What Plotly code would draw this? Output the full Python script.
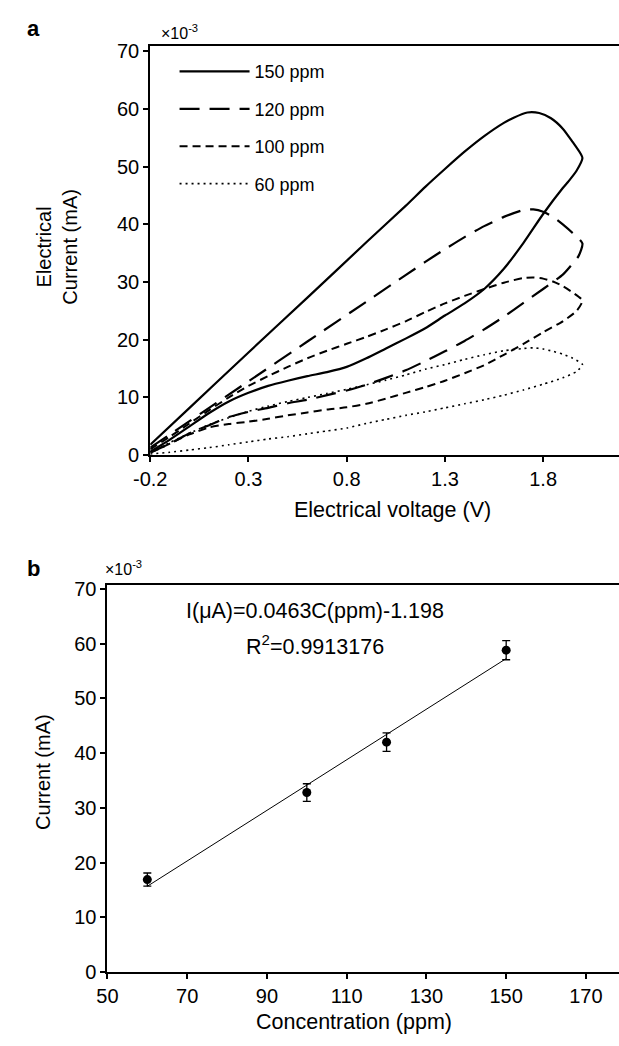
import plotly.graph_objects as go
import numpy as np

W, H = 619, 1046
FONT = "Liberation Sans, Arial, sans-serif"

# ---------------- Panel a: cyclic voltammograms ----------------
legend_names = ["150 ppm", "120 ppm", "100 ppm", "60 ppm"]

# 150 ppm (upper branch -0.2 -> 2.0, then lower branch 2.0 -> -0.2)
v150 = [-0.2, 0.0, 0.3, 0.6, 0.9, 1.1, 1.2, 1.3, 1.4, 1.5, 1.6, 1.65, 1.72, 1.78, 1.84, 1.9, 1.95, 1.99, 2.0,
        1.97, 1.93, 1.9, 1.8, 1.7, 1.6, 1.5, 1.4, 1.3, 1.2, 1.1, 1.0, 0.9, 0.8, 0.7, 0.6, 0.5, 0.4, 0.3, 0.2, 0.1, 0.0, -0.1, -0.2]
i150 = [1.8, 8.2, 17.8, 27.3, 36.9, 43.2, 46.5, 49.6, 52.6, 55.3, 57.6, 58.5, 59.4, 59.3, 58.4, 56.6, 54.3, 52.3, 51.5,
        49.3, 47.5, 46.3, 41.8, 36.8, 32.3, 28.8, 26.3, 24.2, 22.0, 20.2, 18.5, 16.8, 15.3, 14.4, 13.7, 12.9, 12.0, 10.8, 9.3, 7.3, 5.0, 2.7, 0.6]

# 120 ppm
v120 = [-0.2, 0.0, 0.3, 0.6, 0.9, 1.1, 1.2, 1.3, 1.4, 1.5, 1.6, 1.7, 1.75, 1.8, 1.85, 1.9, 1.95, 2.0,
        1.98, 1.94, 1.9, 1.8, 1.7, 1.6, 1.5, 1.4, 1.3, 1.2, 1.1, 1.0, 0.9, 0.8, 0.7, 0.6, 0.5, 0.4, 0.3, 0.2, 0.1, 0.0, -0.1, -0.2]
i120 = [1.3, 5.9, 12.8, 19.7, 26.6, 31.2, 33.5, 35.7, 37.8, 39.7, 41.3, 42.5, 42.6, 42.2, 41.3, 40.0, 38.5, 36.7,
        34.5, 32.8, 31.3, 28.8, 26.4, 24.0, 21.8, 19.8, 18.0, 16.3, 14.7, 13.4, 12.2, 11.2, 10.4, 9.6, 9.0, 8.2, 7.5, 6.6, 5.2, 3.8, 2.0, 0.5]

# 100 ppm
v100 = [-0.2, -0.1, 0.0, 0.1, 0.2, 0.3, 0.4, 0.5, 0.6, 0.7, 0.8, 0.9, 1.0, 1.1, 1.2, 1.3, 1.4, 1.5, 1.6, 1.7, 1.75, 1.8, 1.85, 1.9, 1.95, 2.0,
        1.97, 1.9, 1.8, 1.7, 1.6, 1.5, 1.4, 1.3, 1.2, 1.1, 1.0, 0.9, 0.8, 0.7, 0.6, 0.5, 0.4, 0.3, 0.2, 0.1, 0.0, -0.1, -0.2]
i100 = [1.0, 3.2, 5.5, 7.8, 10.0, 12.0, 13.7, 15.3, 16.8, 18.1, 19.3, 20.5, 21.8, 23.2, 24.8, 26.3, 27.6, 28.8, 29.9, 30.7, 30.8, 30.6, 30.1, 29.3, 28.2, 26.8,
        25.0, 23.2, 21.3, 19.3, 17.4, 15.6, 14.2, 12.9, 11.8, 10.8, 9.8, 8.9, 8.3, 7.9, 7.4, 6.9, 6.3, 5.8, 5.4, 4.8, 3.6, 2.0, 0.4]

# 60 ppm
v60 = [-0.2, -0.1, 0.0, 0.1, 0.2, 0.3, 0.4, 0.5, 0.6, 0.7, 0.8, 0.9, 1.0, 1.1, 1.2, 1.3, 1.4, 1.5, 1.6, 1.7, 1.75, 1.8, 1.85, 1.9, 1.95, 2.0,
       1.97, 1.9, 1.8, 1.7, 1.6, 1.5, 1.4, 1.3, 1.2, 1.1, 1.0, 0.9, 0.8, 0.7, 0.6, 0.5, 0.4, 0.3, 0.2, 0.1, 0.0, -0.1, -0.2]
i60 = [0.5, 2.2, 3.8, 5.3, 6.5, 7.6, 8.5, 9.3, 10.0, 10.7, 11.4, 12.2, 13.0, 13.9, 14.9, 15.7, 16.6, 17.4, 18.1, 18.5, 18.6, 18.4, 18.0, 17.5, 16.8, 15.7,
       14.5, 13.4, 12.3, 11.3, 10.4, 9.6, 8.9, 8.2, 7.5, 6.9, 6.2, 5.5, 4.7, 4.2, 3.7, 3.2, 2.8, 2.3, 1.8, 1.3, 0.9, 0.5, 0.2]

a_xticks = [-0.2, 0.3, 0.8, 1.3, 1.8]
a_yticks = [0, 10, 20, 30, 40, 50, 60, 70]

# ---------------- Panel b: calibration ----------------
conc = [60, 100, 120, 150]
current = [16.9, 32.8, 42.0, 58.8]
current_err = [1.2, 1.6, 1.7, 1.75]
b_xticks = [50, 70, 90, 110, 130, 150, 170]
b_yticks = [0, 10, 20, 30, 40, 50, 60, 70]
eq_text = "I(\u03bcA)=0.0463C(ppm)-1.198"
r2_text = "R<sup>2</sup>=0.9913176"

# ---------------- geometry helpers (pixels -> paper) ----------------
def px(x):
    return x / W

def py(y):
    return 1 - y / H

styles = [
    dict(width=2.2, dash="solid"),
    dict(width=2.2, dash="20px,10px"),
    dict(width=2.0, dash="8px,5px"),
    dict(width=1.6, dash="2px,4px"),
]

fig = go.Figure()
series = [(v150, i150), (v120, i120), (v100, i100), (v60, i60)]
for k, ((vx, iy), name) in enumerate(zip(series, legend_names)):
    fig.add_trace(go.Scatter(
        x=vx, y=iy, mode="lines", name=name, legendgroup=name,
        line=dict(color="black", shape="spline", smoothing=0.6, **styles[k]),
        xaxis="x", yaxis="y", showlegend=True,
    ))

# panel b
coef = np.polyfit(conc, current, 1)
fit_x = [min(conc), max(conc)]
fit_y = [coef[0] * c + coef[1] for c in fit_x]
fig.add_trace(go.Scatter(x=fit_x, y=fit_y, mode="lines", line=dict(color="black", width=1),
                         xaxis="x2", yaxis="y2", showlegend=False))
fig.add_trace(go.Scatter(x=conc, y=current, mode="markers",
                         marker=dict(color="black", size=9, symbol="circle"),
                         error_y=dict(type="data", array=current_err, color="black", thickness=1.3, width=4),
                         xaxis="x2", yaxis="y2", showlegend=False))

tickfont = dict(family=FONT, size=20, color="black")
axis_common = dict(showgrid=False, zeroline=False, ticks="outside", ticklen=5, tickwidth=1.5,
                   tickcolor="black", linecolor="black", showline=True, tickfont=tickfont)

# panel geometry (pixels)
a_left, a_right, a_top, a_bottom = 137, 619, 40, 456
a_xpp = 202.0
a_ypp = 5.87
b_left, b_right, b_top, b_bottom = 93, 619, 588, 982
b_xpp = 4.1
b_ypp = 5.571

fig.update_layout(
    width=W, height=H, margin=dict(l=0, r=0, t=0, b=0),
    paper_bgcolor="white", plot_bgcolor="white",
    font=dict(family=FONT, color="black"),
    xaxis=dict(domain=[px(a_left), px(a_right)], anchor="y",
               range=[a_xticks[0], a_xticks[0] + (a_right - a_left) / a_xpp],
               tickvals=a_xticks, ticktext=[f"{t:g}" for t in a_xticks],
               mirror=True, linewidth=1.6, **axis_common),
    yaxis=dict(domain=[py(a_bottom), py(a_top)], anchor="x",
               range=[0, (a_bottom - a_top) / a_ypp], tickvals=a_yticks,
               linewidth=2, **axis_common),
    xaxis2=dict(domain=[px(b_left), px(b_right)], anchor="y2",
                range=[b_xticks[0], b_xticks[0] + (b_right - b_left) / b_xpp],
                tickvals=b_xticks, mirror=True, linewidth=1.8, **axis_common),
    yaxis2=dict(domain=[py(b_bottom), py(b_top)], anchor="x2",
                range=[0, (b_bottom - b_top) / b_ypp], tickvals=b_yticks,
                linewidth=2, **axis_common),
    legend=dict(x=px(162), y=py(47), xanchor="left", yanchor="top",
                bgcolor="rgba(0,0,0,0)", font=dict(family=FONT, size=18, color="black"),
                tracegroupgap=11, itemwidth=70),
    showlegend=True,
)

ann = []
def add_text(text, x, y, size=18, bold=False, angle=0, xanchor="center"):
    ann.append(dict(text=(f"<b>{text}</b>" if bold else text), x=px(x), y=py(y), xref="paper", yref="paper",
                    showarrow=False, textangle=angle, xanchor=xanchor, yanchor="middle",
                    font=dict(family=FONT, size=size, color="black")))

add_text("a", 17, 22, size=22, bold=True)
add_text("b", 17, 571, size=22, bold=True)
add_text("\u00d710<sup>-3</sup>", 146, 25, size=16, xanchor="left")
add_text("\u00d710<sup>-3</sup>", 88, 571, size=16, xanchor="left")
add_text("Electrical<br>Current (mA)", 41, 244, size=20, angle=-90)
add_text("Electrical voltage (V)", 386, 512, size=21.5)
add_text("Current (mA)", 26, 778, size=20, angle=-90)
add_text("Concentration (ppm)", 347, 1033, size=21.5)
ann.append(dict(text=eq_text, x=102, y=66, xref="x2", yref="y2", showarrow=False,
                font=dict(family=FONT, size=21.5, color="black")))
ann.append(dict(text=r2_text, x=102, y=59.8, xref="x2", yref="y2", showarrow=False,
                font=dict(family=FONT, size=21.5, color="black")))
fig.update_layout(annotations=ann)

fig.write_html("out.html")
